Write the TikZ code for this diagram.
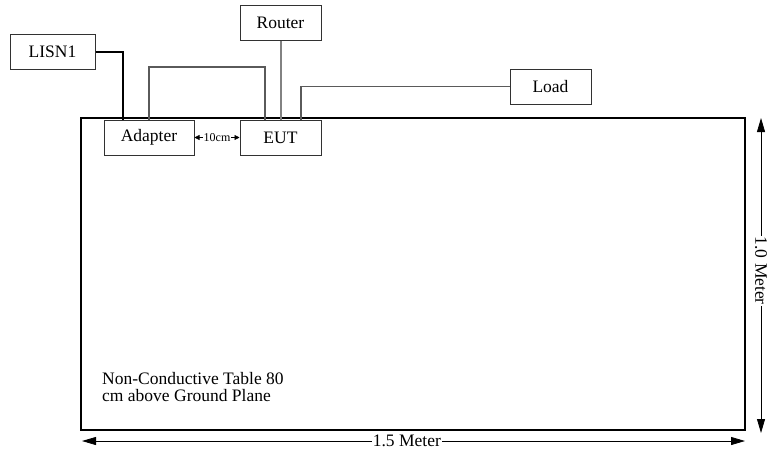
\documentclass[tikz,border=0pt]{standalone}
\usepackage{fontspec}
\setmainfont{Liberation Serif}
\usetikzlibrary{arrows.meta,positioning,calc}
\definecolor{boxline}{RGB}{50,50,50}
\definecolor{cable}{RGB}{90,90,90}
\definecolor{routercable}{RGB}{130,130,130}

\tikzset{
  unit/.style={draw=boxline,line width=1pt,inner sep=0pt,minimum height=35pt,font=\fontsize{17.5}{20}\selectfont},
  dimline/.style={line width=0.8pt,{Triangle[length=14pt,width=8pt]}-{Triangle[length=14pt,width=8pt]}},
}

\begin{document}
\begin{tikzpicture}[x=1pt,y=-1pt]
    \useasboundingbox (0,0) rectangle (767,458);
    % table top
    \draw[line width=2.5pt] (81,118) rectangle (745,430);
    \node[font=\fontsize{17.5}{17}\selectfont,align=left,anchor=north west,inner sep=0pt] (tabletext) at (102,372){Non-Conductive Table 80\\cm above Ground Plane};

    % units
    \node[unit,minimum width=85pt] (lisn) at (52.5,52){LISN1};
    \node[unit,minimum width=81pt] (router) at (280.5,22.5){Router};
    \node[unit,minimum width=90pt] (adapter) at (149,137.5){Adapter};
    \node[unit,minimum width=81pt] (eut) at (280.5,137.5){EUT};
    \node[unit,minimum width=81pt] (load) at (550.5,86.5){Load};

    % cables
    \draw[line width=2.2pt] (lisn.east) -| ([xshift=-26pt]adapter.north);
    \draw[cable,line width=1.2pt] (adapter.north) |- (200,67) -| ([xshift=-15.5pt]eut.north);
    \draw[routercable,line width=2pt] (router.south) -- (eut.north);
    \draw[cable,line width=1.2pt] (load.west) -| ([xshift=20.5pt]eut.north);

    % 10cm spacing
    \draw[line width=0.6pt,{Triangle[length=5pt,width=5pt]}-{Triangle[length=5pt,width=5pt]}] (adapter.east) -- (eut.west)
      node[midway,fill=white,inner sep=0.5pt,font=\fontsize{12}{13}\selectfont]{10cm};

    % dimensions
    \coordinate (wl) at (82,441);
    \coordinate (wr) at (745,441);
    \draw[dimline] (wl) -- (wr) node[pos=0.49,fill=white,inner sep=1pt,font=\fontsize{17.5}{20}\selectfont]{1.5 Meter};
    \coordinate (ht) at (761,118);
    \coordinate (hb) at (761,433);
    \draw[dimline] (ht) -- (hb) node[pos=0.485,fill=white,inner sep=1pt,rotate=-90,font=\fontsize{17.5}{20}\selectfont]{1.0 Meter};
  \end{tikzpicture}
\end{document}
